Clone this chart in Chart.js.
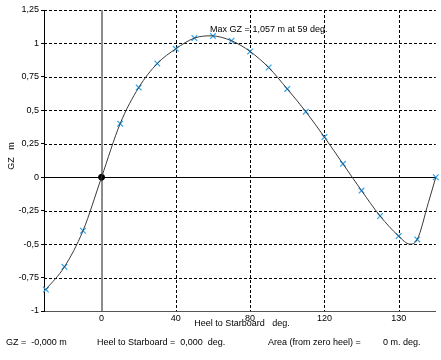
<!DOCTYPE html>
<html>
<head>
<meta charset="utf-8">
<title>GZ curve</title>
<script src="https://cdn.jsdelivr.net/npm/chart.js@4/dist/chart.umd.min.js"></script>
<style>
  html, body { margin: 0; padding: 0; background: #fff; }
  #wrap { width: 441px; height: 360px; position: relative; }
</style>
</head>
<body>
<div id="wrap"><canvas id="gzChart" width="441" height="360"></canvas></div>
<script>
// ==================== DATA ====================
// heel angle (deg) and GZ (m) at the marked stations
const markerHeel = [-30, -20, -10, 10, 20, 30, 40, 50, 60, 70, 80, 90, 100, 110, 120, 130, 140, 150, 160, 170, 180];
const markerGZ   = [-0.84, -0.67, -0.40, 0.40, 0.67, 0.85, 0.96, 1.04, 1.055, 1.02, 0.94, 0.82, 0.66, 0.49, 0.30, 0.10, -0.10, -0.29, -0.44, -0.465, 0];

// curve points (stations + origin, max and min)
const curveHeel = [-30, -20, -10, 0, 10, 20, 30, 40, 50, 59, 70, 80, 90, 100, 110, 120, 130, 140, 150, 160, 166, 170, 176, 180];
const curveGZ   = [-0.84, -0.67, -0.40, 0, 0.40, 0.67, 0.85, 0.96, 1.04, 1.057, 1.02, 0.94, 0.82, 0.66, 0.49, 0.30, 0.10, -0.10, -0.29, -0.44, -0.50, -0.465, -0.19, 0];

const maxHeel = 59;
const maxGZ = 1.057;

const xTicks = [0, 40, 80, 120, 160];
const xTickLabels = ["0", "40", "80", "120", "130"];
const yMin = -1, yMax = 1.25, yStep = 0.25;
const xMin = -31, xMax = 180;

const FONT = "Liberation Sans, Arial, sans-serif";

function toPoints(xs, ys) {
    return xs.map((x, i) => ({ x: x, y: ys[i] }));
}

// ==================== GRID + TEXT PLUGIN ====================
const gzDecor = {
    id: "gzDecor",
    beforeDatasetsDraw(chart) {
        const { ctx, chartArea: a, scales: { x, y } } = chart;
        ctx.save();
        ctx.lineWidth = 1;
        ctx.strokeStyle = "#000";
        ctx.setLineDash([3, 2]);
        // horizontal dashed lines
        for (let v = yMin + yStep; v <= yMax + 1e-9; v += yStep) {
            if (Math.abs(v) < 1e-9) continue;
            const py = Math.round(y.getPixelForValue(v)) + 0.5;
            ctx.beginPath();
            ctx.moveTo(a.left, py);
            ctx.lineTo(a.right, py);
            ctx.stroke();
        }
        // vertical dashed lines
        for (const v of xTicks) {
            if (v === 0) continue;
            const px = Math.round(x.getPixelForValue(v)) + 0.5;
            ctx.beginPath();
            ctx.moveTo(px, a.top);
            ctx.lineTo(px, a.bottom);
            ctx.stroke();
        }
        ctx.setLineDash([]);
        // zero heel line (grey, thicker)
        ctx.strokeStyle = "#8c8c8c";
        ctx.lineWidth = 2;
        const x0 = Math.round(x.getPixelForValue(0));
        ctx.beginPath();
        ctx.moveTo(x0, a.top);
        ctx.lineTo(x0, a.bottom);
        ctx.stroke();
        // zero GZ line
        ctx.strokeStyle = "#000";
        ctx.lineWidth = 1;
        const y0 = Math.round(y.getPixelForValue(0)) + 0.5;
        ctx.beginPath();
        ctx.moveTo(a.left, y0);
        ctx.lineTo(a.right, y0);
        ctx.stroke();
        ctx.restore();
    },
    afterDraw(chart) {
        const { ctx, scales: { x, y } } = chart;
        ctx.save();
        ctx.fillStyle = "#000";
        ctx.font = "9px " + FONT;
        ctx.textBaseline = "middle";

        // max annotation
        ctx.textAlign = "left";
        ctx.fillText("Max GZ = 1,057 m at 59 deg.", x.getPixelForValue(maxHeel) - 1, y.getPixelForValue(maxGZ) - 6);

        // axis titles
        ctx.textAlign = "center";
        ctx.fillText("Heel to Starboard   deg.", 242, 324);
        ctx.save();
        ctx.translate(12, 156);
        ctx.rotate(-Math.PI / 2);
        ctx.fillText("GZ   m", 0, 0);
        ctx.restore();

        // footer read-out
        ctx.textAlign = "left";
        ctx.fillText("GZ =  -0,000 m", 6, 343);
        ctx.fillText("Heel to Starboard =  0,000  deg.", 97, 343);
        ctx.fillText("Area (from zero heel) =", 268, 343);
        ctx.fillText("0 m. deg.", 383, 343);
        ctx.restore();
    }
};

// ==================== CHART ====================
const canvas = document.getElementById("gzChart");

new Chart(canvas, {
    type: "scatter",
    data: {
        datasets: [
            {
                label: "GZ",
                data: toPoints(curveHeel, curveGZ),
                showLine: true,
                borderColor: "#3a3a3a",
                borderWidth: 1,
                pointRadius: 0,
                tension: 0.4,
                cubicInterpolationMode: "monotone",
                clip: false
            },
            {
                label: "stations",
                data: toPoints(markerHeel, markerGZ),
                showLine: false,
                pointStyle: "crossRot",
                pointRadius: 4,
                pointBorderWidth: 1.2,
                pointBorderColor: "#2fa4f0",
                clip: false
            },
            {
                label: "origin",
                data: [{ x: 0, y: 0 }],
                showLine: false,
                pointRadius: 3,
                pointBackgroundColor: "#000",
                pointBorderColor: "#000",
                clip: false
            }
        ]
    },
    options: {
        responsive: false,
        animation: false,
        layout: {
            padding: { top: 10, right: 3, left: 0, bottom: 0 }
        },
        plugins: {
            legend: { display: false },
            tooltip: { enabled: false },
            title: { display: false }
        },
        scales: {
            x: {
                type: "linear",
                min: xMin,
                max: xMax,
                afterFit: (s) => { s.height = 49; },
                afterBuildTicks: (s) => { s.ticks = xTicks.map(v => ({ value: v })); },
                grid: { drawOnChartArea: false, drawTicks: false },
                border: { color: "#555", width: 1 },
                ticks: {
                    padding: 2,
                    color: "#000",
                    maxRotation: 0,
                    font: { family: FONT, size: 9 },
                    callback: (v, i) => xTickLabels[i]
                }
            },
            y: {
                min: yMin,
                max: yMax,
                afterFit: (s) => { s.width = 44; },
                grid: { drawOnChartArea: false, tickLength: 3, color: "#000" },
                border: { color: "#000", width: 1 },
                ticks: {
                    stepSize: yStep,
                    padding: 2,
                    color: "#000",
                    font: { family: FONT, size: 9 },
                    callback: (v) => String(Math.round(v * 100) / 100).replace(".", ",")
                }
            }
        }
    },
    plugins: [gzDecor]
});
</script>
</body>
</html>
